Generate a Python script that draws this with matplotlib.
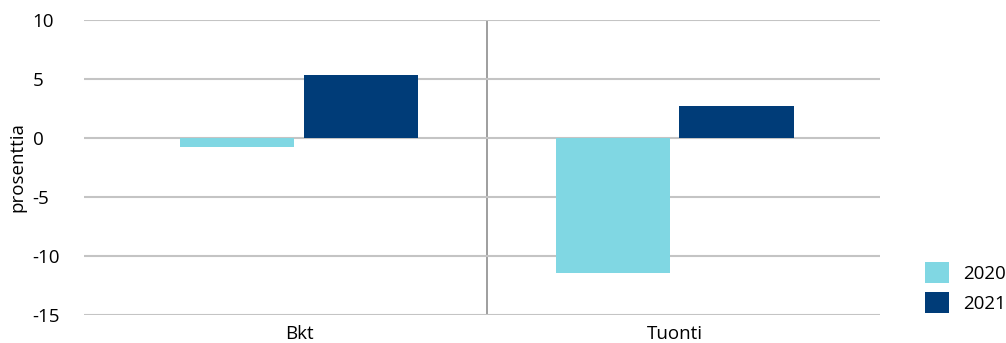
import numpy as np
import matplotlib
matplotlib.use("Agg")
import matplotlib.pyplot as plt
from matplotlib.patches import Patch

categories = ["Bkt", "Tuonti"]
years = ["2020", "2021"]
values_2020 = [-0.8, -11.4]
values_2021 = [5.3, 2.7]
yticks = [10, 5, 0, -5, -10, -15]

colors = {"2020": "#80D7E3", "2021": "#003C78"}

plt.rcParams["font.family"] = ["Open Sans", "DejaVu Sans"]
fs = 13.5

fig = plt.figure(figsize=(10.06, 3.43), dpi=100)
ax = fig.add_axes([84 / 1006, 1 - 315 / 343, (880 - 84) / 1006, (315 - 20) / 343])

x = np.arange(len(categories))
width = 0.304
offset = 0.165
ax.bar(x - offset, values_2020, width, color=colors["2020"], zorder=3)
ax.bar(x + offset, values_2021, width, color=colors["2021"], zorder=3)

ax.set_ylim(-15, 10)
ax.set_xlim(-0.5726, 1.547)
ax.set_yticks(yticks)
ax.set_yticklabels([str(t) for t in yticks])
ax.set_xticks(x)
ax.set_xticklabels(categories)
ax.tick_params(axis="both", length=0, labelsize=fs, colors="#000000")
ax.tick_params(axis="x", pad=7)
for lab in ax.get_yticklabels():
    lab.set_horizontalalignment("left")
ax.tick_params(axis="y", pad=37)

ax.yaxis.grid(True, color="#C4C4C4", linewidth=1.5, zorder=0)
ax.axvline(0.5, color="#8E8E8E", linewidth=1.2, zorder=1)
for side in ["top", "right", "left", "bottom"]:
    ax.spines[side].set_visible(False)

ax.set_ylabel("prosenttia", fontsize=fs)
ax.yaxis.set_label_coords(-0.073, 0.5)

handles = [Patch(facecolor=colors[y], label=y) for y in years]
fig.legend(handles=handles, loc="upper left", bbox_to_anchor=(917 / 1006, 1 - 254 / 343),
           frameon=False, fontsize=fs, handlelength=1.3, handleheight=1.4,
           handletextpad=0.75, labelspacing=0.45, borderaxespad=0)

fig.savefig("out.png", dpi=100)
